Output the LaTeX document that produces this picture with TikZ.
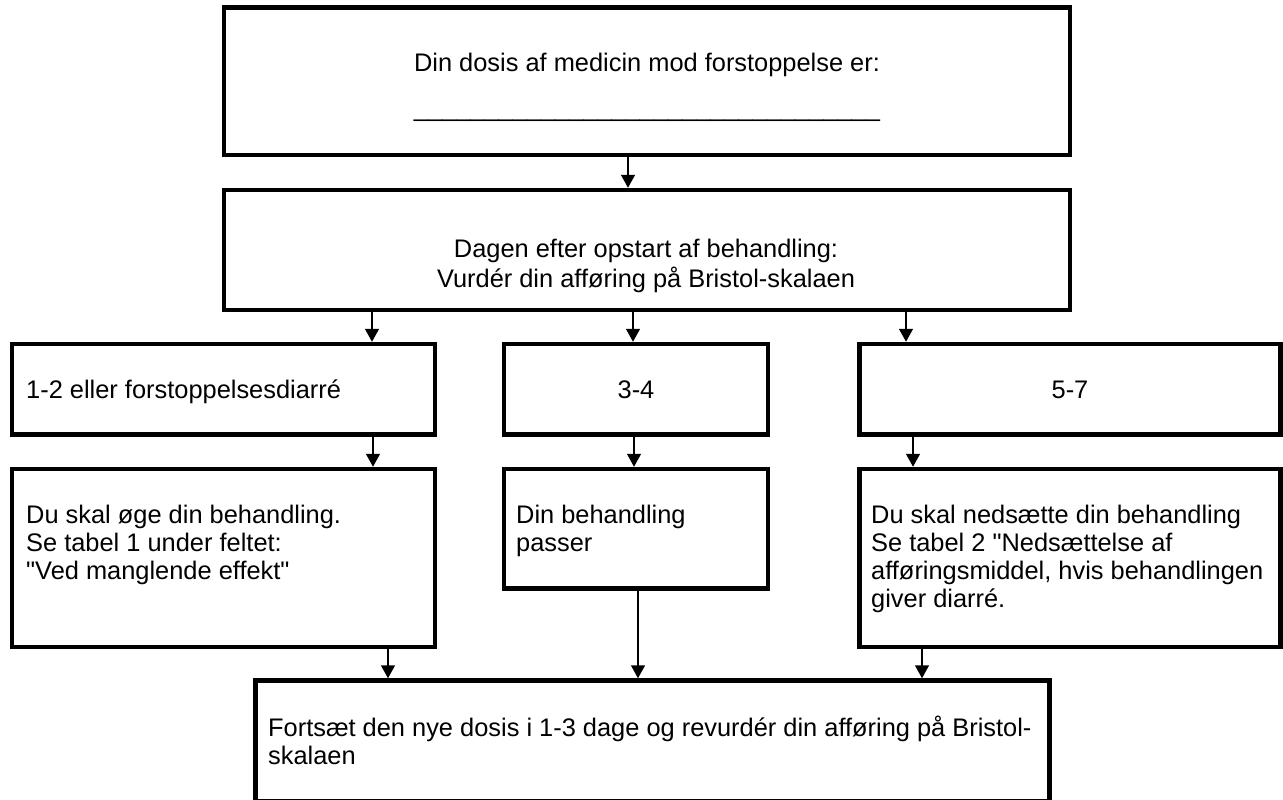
\documentclass[tikz,border=0pt]{standalone}
\usepackage{fontspec}
\setmainfont{Liberation Sans}[Ligatures=TeXOff]
\usetikzlibrary{arrows.meta,fit}
\begin{document}
\begin{tikzpicture}[x=1pt,y=-1pt,
  box/.style={draw, line width=4.5pt, inner sep=0pt, rectangle},
  txt/.style={inner sep=0pt, font=\fontsize{25.4}{28}\selectfont, align=left},
  arr/.style={-{Triangle[width=14pt,length=13pt]}, line width=1.5pt}]
\useasboundingbox (0,0) rectangle (1283,800);
% boxes
\node[box, fit={(224,7.5)(1070,155)}] (b1) {};
\node[box, fit={(224,190)(1070,310)}] (b2) {};
\node[box, fit={(12,344)(435,434.5)}] (r3a) {};
\node[box, fit={(504,344)(768,434.5)}] (r3b) {};
\node[box, fit={(859.5,344)(1280.5,434.5)}] (r3c) {};
\node[box, fit={(12,469)(435,647)}] (r4a) {};
\node[box, fit={(504,469)(768,588.5)}] (r4b) {};
\node[box, fit={(859.5,469)(1280.5,647)}] (r4c) {};
\node[box, fit={(255.5,680.5)(1049.5,801)}] (b5) {};
% texts
\node[txt, align=center, anchor=north] (t1) at (647,51.4) {\strut Din dosis af medicin mod forstoppelse er:\\[17pt]\_\_\_\_\_\_\_\_\_\_\_\_\_\_\_\_\_\_\_\_\_\_\_\_\_\_\_\_\_\_\_\_\_};
\node[txt, align=center, anchor=north] (t2) at (646,237.4) {\strut Dagen efter opstart af behandling:\\Vurdér din afføring på Bristol-skalaen};
\node[txt, anchor=base west] (t3a) at (26,398.5) {1-2 eller forstoppelsesdiarré};
\node[txt, anchor=base] (t3b) at (636,398.5) {3-4};
\node[txt, anchor=base] (t3c) at (1070,398.5) {5-7};
\node[txt, anchor=north west] (t4a) at (26,503.4) {\strut Du skal øge din behandling.\\Se tabel 1 under feltet:\\"Ved manglende effekt"};
\node[txt, anchor=north west] (t4b) at (516,503.4) {\strut Din behandling\\passer};
\node[txt, anchor=north west] (t4c) at (871,503.4) {\strut Du skal nedsætte din behandling\\Se tabel 2 "Nedsættelse af\\afføringsmiddel, hvis behandlingen\\giver diarré.};
\node[txt, anchor=north west] (t5) at (268,715.4) {\strut Fortsæt den nye dosis i 1-3 dage og revurdér din afføring på Bristol-\\skalaen};
% arrows
\draw[arr] (b1.south -| 628,0) -- (b2.north -| 628,0);
\draw[arr] (b2.south -| 372,0) -- (r3a.north -| 372,0);
\draw[arr] (b2.south -| 633,0) -- (r3b.north -| 633,0);
\draw[arr] (b2.south -| 906,0) -- (r3c.north -| 906,0);
\draw[arr] (r3a.south -| 373,0) -- (r4a.north -| 373,0);
\draw[arr] (r3b.south -| 634,0) -- (r4b.north -| 634,0);
\draw[arr] (r3c.south -| 913,0) -- (r4c.north -| 913,0);
\draw[arr] (r4a.south -| 388,0) -- (b5.north -| 388,0);
\draw[arr] (r4b.south -| 638,0) -- (b5.north -| 638,0);
\draw[arr] (r4c.south -| 922,0) -- (b5.north -| 922,0);
\end{tikzpicture}
\end{document}
